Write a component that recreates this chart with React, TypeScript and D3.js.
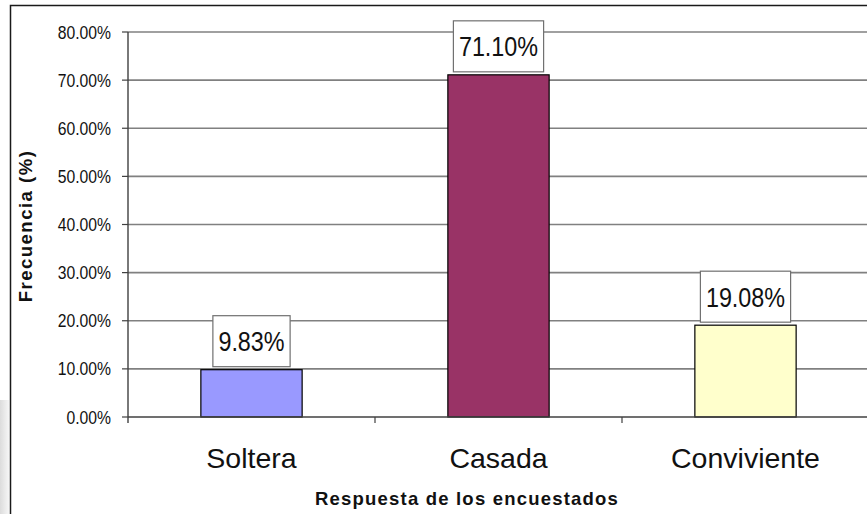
import React, { useEffect, useRef } from "react";
import * as d3 from "d3";

const categories = ["Soltera", "Casada", "Conviviente"];
const values = [0.0983, 0.711, 0.1908];
const valueLabels = ["9.83%", "71.10%", "19.08%"];
const barColors = ["#9999FF", "#993366", "#FFFFCC"];
const yTicks = [0, 0.1, 0.2, 0.3, 0.4, 0.5, 0.6, 0.7, 0.8];
const yTitle = "Frecuencia (%)";
const xTitle = "Respuesta de los encuestados";

const W = 867;
const H = 514;
const SANS = "'Liberation Sans', Arial, sans-serif";
const NARROW_SCALE = 0.82;

export default function App() {
  const ref = useRef<SVGSVGElement | null>(null);

  useEffect(() => {
    const svg = d3.select(ref.current);
    svg.selectAll("*").remove();

    const left = 128, right = 869, top = 32, bottom = 417;
    const x = d3.scaleBand<string>().domain(categories).range([left, right]).paddingInner(0).paddingOuter(0);
    const y = d3.scaleLinear().domain([0, 0.8]).range([bottom, top]);
    const fmt = d3.format(".2%");

    svg.append("rect").attr("width", W).attr("height", H).attr("fill", "#fff");

    // faint left watermark
    const grad = svg.append("defs").append("linearGradient").attr("id", "wm").attr("x1", 0).attr("x2", 1);
    grad.append("stop").attr("offset", "0").attr("stop-color", "#dcdcdc");
    grad.append("stop").attr("offset", "1").attr("stop-color", "#f6f6f6");
    svg.append("rect").attr("x", 0).attr("y", 400).attr("width", 9).attr("height", 114).attr("fill", "url(#wm)");

    // outer border
    svg.append("rect").attr("x", 10.5).attr("y", 5.5).attr("width", 900).attr("height", 600)
      .attr("fill", "none").attr("stroke", "#1a1a1a").attr("stroke-width", 1.5);

    // gridlines
    svg.append("g").selectAll("line").data(yTicks.filter((t) => t > 0)).join("line")
      .attr("x1", left).attr("x2", right)
      .attr("y1", (d) => y(d)).attr("y2", (d) => y(d))
      .attr("stroke", "#808080").attr("stroke-width", 1.6);

    // y tick marks & labels
    svg.append("g").selectAll("line").data(yTicks).join("line")
      .attr("x1", left - 6).attr("x2", left)
      .attr("y1", (d) => y(d)).attr("y2", (d) => y(d))
      .attr("stroke", "#404040").attr("stroke-width", 1.2);
    svg.append("g").selectAll("text").data(yTicks).join("text")
      .attr("transform", (d) => `translate(111,${y(d) + 6.5}) scale(0.85,1)`)
      .attr("text-anchor", "end")
      .attr("font-family", SANS).attr("font-size", 18.5).attr("fill", "#111")
      .text((d) => fmt(d));

    // bars
    const bw = x.bandwidth() * 0.41;
    svg.append("g").selectAll("rect").data(categories).join("rect")
      .attr("x", (d) => (x(d) as number) + x.bandwidth() / 2 - bw / 2)
      .attr("y", (d, i) => y(values[i]))
      .attr("width", bw)
      .attr("height", (d, i) => bottom - y(values[i]))
      .attr("fill", (d, i) => barColors[i])
      .attr("stroke", "#000").attr("stroke-width", 1.2);

    // axes
    svg.append("line").attr("x1", left).attr("x2", right).attr("y1", bottom).attr("y2", bottom)
      .attr("stroke", "#404040").attr("stroke-width", 1.4);
    svg.append("line").attr("x1", left).attr("x2", left).attr("y1", top).attr("y2", bottom + 6)
      .attr("stroke", "#404040").attr("stroke-width", 1.4);
    svg.append("g").selectAll("line").data(categories.slice(1)).join("line")
      .attr("x1", (d) => x(d) as number).attr("x2", (d) => x(d) as number)
      .attr("y1", bottom).attr("y2", bottom + 6)
      .attr("stroke", "#404040").attr("stroke-width", 1.2);

    // value labels with boxes
    categories.forEach((c, i) => {
      const cx = (x(c) as number) + x.bandwidth() / 2;
      const boxBottom = y(values[i]) - 3;
      const boxH = 51;
      const g = svg.append("g");
      const rect = g.append("rect");
      const t = g.append("text")
        .attr("transform", `translate(${cx},${boxBottom - boxH / 2 + 10}) scale(${NARROW_SCALE},1)`)
        .attr("text-anchor", "middle")
        .attr("font-family", SANS).attr("font-size", 28.5).attr("fill", "#111")
        .text(valueLabels[i]);
      const tw = (t.node() as SVGTextElement).getComputedTextLength() * NARROW_SCALE;
      const bwid = tw + 11;
      rect.attr("x", cx - bwid / 2).attr("y", boxBottom - boxH).attr("width", bwid).attr("height", boxH)
        .attr("fill", "#fff").attr("stroke", "#707070").attr("stroke-width", 1.2);
    });

    // category labels
    svg.append("g").selectAll("text").data(categories).join("text")
      .attr("x", (d) => (x(d) as number) + x.bandwidth() / 2).attr("y", 468)
      .attr("text-anchor", "middle")
      .attr("font-family", SANS).attr("font-size", 28.5).attr("fill", "#111")
      .text((d) => d);

    // axis titles
    svg.append("text").attr("x", 467).attr("y", 505).attr("text-anchor", "middle")
      .attr("font-family", SANS).attr("font-weight", "bold").attr("font-size", 18.5)
      .attr("letter-spacing", 1.2).attr("fill", "#111").text(xTitle);
    svg.append("text").attr("transform", "translate(32,226) rotate(-90)").attr("text-anchor", "middle")
      .attr("font-family", SANS).attr("font-weight", "bold").attr("font-size", 18.5)
      .attr("letter-spacing", 1.5).attr("fill", "#111").text(yTitle);
  }, []);

  return <svg ref={ref} width={W} height={H} style={{ display: "block", position: "absolute", left: 0, top: 0 }} />;
}
